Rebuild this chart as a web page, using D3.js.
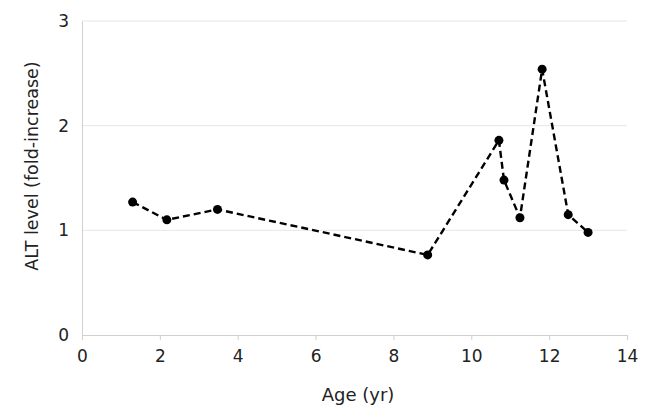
<!DOCTYPE html>
<html><head><meta charset="utf-8">
<script src="https://cdn.jsdelivr.net/npm/d3@7"></script>
<style>body{margin:0;background:#fff}svg{display:block}</style>
</head><body><svg id="c" width="650" height="415"></svg>
<script>
const ages = [1.30, 2.18, 3.48, 8.88, 10.71, 10.84, 11.25, 11.82, 12.49, 13.0];
const altLevels = [1.27, 1.10, 1.20, 0.765, 1.86, 1.48, 1.12, 2.54, 1.15, 0.98];
const xTicks = [0, 2, 4, 6, 8, 10, 12, 14];
const yTicks = [0, 1, 2, 3];
const xTitle = "Age (yr)";
const yTitle = "ALT level (fold-increase)";

const svg = d3.select("#c");
const font = "DejaVu Sans, Verdana, sans-serif";
const m = {l: 82, r: 627, t: 21, b: 335};
const x = d3.scaleLinear().domain([0, 14]).range([m.l, m.r]);
const y = d3.scaleLinear().domain([0, 3]).range([m.b, m.t]);

// gridlines
svg.append("g").selectAll("line").data(yTicks.filter(d => d > 0)).join("line")
  .attr("x1", m.l).attr("x2", m.r).attr("y1", d => y(d)).attr("y2", d => y(d))
  .attr("stroke", "#e6e6e6").attr("stroke-width", 1);

// x axis
const xa = svg.append("g").attr("transform", `translate(0,${m.b})`)
  .call(d3.axisBottom(x).tickValues(xTicks).tickSize(5).tickPadding(10).tickFormat(d3.format("d")));
xa.select(".domain").attr("stroke", "#d0d0d0");
xa.selectAll(".tick line").attr("stroke", "#d0d0d0");
xa.selectAll("text").attr("font-family", font).attr("font-size", 17).attr("fill", "#222");

// y axis
const ya = svg.append("g").attr("transform", `translate(${m.l},0)`)
  .call(d3.axisLeft(y).tickValues(yTicks).tickSize(0).tickPadding(13).tickFormat(d3.format("d")));
ya.select(".domain").attr("stroke", "#d0d0d0");
ya.selectAll("text").attr("font-family", font).attr("font-size", 17).attr("fill", "#222");

// titles
svg.append("text").attr("x", 358).attr("y", 401).attr("text-anchor", "middle")
  .attr("font-family", font).attr("font-size", 18).attr("fill", "#222").text(xTitle);
svg.append("text").attr("transform", `translate(38,166) rotate(-90)`)
  .attr("text-anchor", "middle").attr("font-family", font).attr("font-size", 17.5).attr("fill", "#222").text(yTitle);

const pts = ages.map((a, i) => [a, altLevels[i]]);
svg.append("path").datum(pts)
  .attr("d", d3.line().x(d => x(d[0])).y(d => y(d[1])))
  .attr("fill", "none").attr("stroke", "#000").attr("stroke-width", 2.4).attr("stroke-dasharray", "7,4");
svg.append("g").selectAll("circle").data(pts).join("circle")
  .attr("cx", d => x(d[0])).attr("cy", d => y(d[1])).attr("r", 4.5).attr("fill", "#000");
</script></body></html>
